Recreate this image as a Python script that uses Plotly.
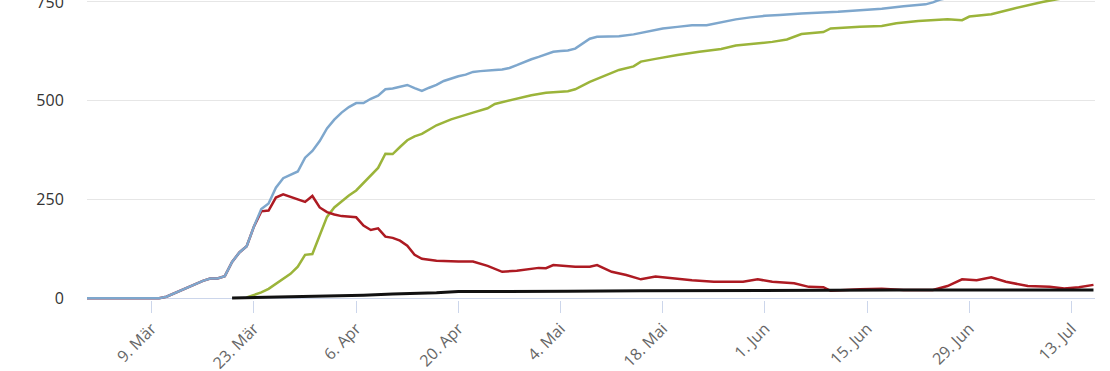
import plotly.graph_objects as go

# ---- data ----
blue_dates = ["02-29","03-10","03-11","03-12","03-13","03-14","03-15","03-16","03-17","03-18","03-19",
              "03-20","03-21","03-22","03-23","03-24","03-25","03-26","03-27","03-28","03-29","03-30",
              "03-31","04-01","04-02","04-03","04-04","04-05","04-06","04-07","04-08","04-09","04-10",
              "04-11","04-12","04-13","04-14","04-15","04-16","04-17","04-18","04-19","04-20","04-21",
              "04-22","04-23","04-24","04-25","04-26","04-27","04-28","04-29","04-30","05-01","05-02",
              "05-03","05-04","05-05","05-06","05-07","05-08","05-09","05-11","05-12","05-14","05-16",
              "05-18","05-20","05-22","05-24","05-26","05-28","05-30","06-01","06-03","06-06","06-11",
              "06-14","06-17","06-20","06-23","06-24","06-25","06-26","06-29","07-02","07-05","07-10",
              "07-14","07-16"]
blue_vals = [0,0,4,12,20,29,37,44,50,50,56,
             92,116,132,182,226,240,280,304,313,321,356,
             373,398,430,452,470,484,494,494,505,513,529,
             531,536,540,532,525,533,540,550,556,562,566,
             573,575,577,578,579,583,590,598,605,611,618,
             624,626,627,632,645,657,662,662,663,668,676,
             683,687,691,691,699,706,711,715,717,721,725,
             729,733,739,744,749,756,760,781,793,794,800,
             813,825]

red_dates = ["02-29","03-10","03-11","03-12","03-13","03-14","03-15","03-16","03-17","03-18","03-19",
             "03-20","03-21","03-22","03-23","03-24","03-25","03-26","03-27","03-28","03-29","03-30",
             "03-31","04-01","04-02","04-03","04-04","04-05","04-06","04-07","04-08","04-09","04-10",
             "04-11","04-12","04-13","04-14","04-15","04-17","04-20","04-22","04-24","04-26","04-28",
             "05-01","05-02","05-03","05-06","05-08","05-09","05-11","05-13","05-15","05-17","05-19",
             "05-22","05-25","05-29","05-31","06-02","06-05","06-07","06-09","06-10","06-14","06-17",
             "06-20","06-24","06-26","06-28","06-30","07-02","07-04","07-07","07-10","07-12","07-14",
             "07-16"]
red_vals = [0,0,4,12,20,29,37,44,50,50,56,
            92,116,132,182,220,222,255,263,257,250,244,
            259,230,218,212,208,206,205,184,173,177,156,
            153,146,133,110,100,95,93,93,82,67,70,
            77,76,84,80,80,84,67,59,48,55,51,
            46,42,42,48,42,38,29,28,19,23,24,
            21,21,31,48,46,53,42,31,29,25,28,
            34]

green_dates = ["03-22","03-23","03-24","03-25","03-26","03-27","03-28","03-29","03-30","03-31","04-01",
               "04-02","04-03","04-04","04-05","04-06","04-07","04-08","04-09","04-10","04-11","04-12",
               "04-13","04-14","04-15","04-17","04-19","04-22","04-24","04-25","04-27","04-30","05-02",
               "05-05","05-06","05-08","05-10","05-12","05-14","05-15","05-17","05-20","05-23","05-26",
               "05-28","05-31","06-02","06-04","06-06","06-09","06-10","06-14","06-17","06-19","06-22",
               "06-26","06-28","06-29","07-02","07-05","07-07","07-09","07-11","07-13","07-16"]
green_vals = [2,8,15,24,36,48,62,80,110,112,160,
              206,230,246,260,273,292,312,330,366,365,383,
              400,410,416,438,453,470,481,492,501,514,520,
              524,529,548,563,578,587,599,606,616,624,631,
              640,645,649,655,669,674,683,687,689,696,702,
              706,704,713,719,733,742,750,757,763,770]

black_dates = ["03-20","03-23","03-26","03-29","04-02","04-07","04-11","04-14","04-17","04-20",
               "04-27","05-05","05-15","05-30","06-19","07-16"]
black_vals = [1,2,3,5,6,8,11,12,14,17,17,18,19,20,21,21]

tick_dates = ["03-09","03-23","04-06","04-20","05-04","05-18","06-01","06-15","06-29","07-13"]
tick_labels = ["9. Mär","23. Mär","6. Apr","20. Apr","4. Mai","18. Mai","1. Jun","15. Jun","29. Jun","13. Jul"]
y_ticks = [0, 250, 500, 750]

def full(ds):
    return ["2020-" + d for d in ds]

fig = go.Figure()
fig.add_trace(go.Scatter(x=full(green_dates), y=green_vals, mode="lines",
                         line=dict(color="#9bb43a", width=2.5)))
fig.add_trace(go.Scatter(x=full(red_dates), y=red_vals, mode="lines",
                         line=dict(color="#ad1a22", width=2.5)))
fig.add_trace(go.Scatter(x=full(blue_dates), y=blue_vals, mode="lines",
                         line=dict(color="#7ea7cd", width=2.5)))
fig.add_trace(go.Scatter(x=full(black_dates), y=black_vals, mode="lines",
                         line=dict(color="#111111", width=3)))

fig.update_layout(
    width=1110, height=371,
    margin=dict(l=87, r=15, t=0, b=71, autoexpand=False),
    paper_bgcolor="white", plot_bgcolor="white",
    showlegend=False,
    font=dict(family="Open Sans, sans-serif"),
)
fig.update_xaxes(
    range=["2020-02-29 03:00", "2020-07-16 05:00"],
    tickvals=full(tick_dates), ticktext=tick_labels,
    tickangle=-45, ticks="outside", ticklen=12, tickcolor="#ccd6eb",
    showgrid=False, showline=False, zeroline=False, automargin=False,
    tickfont=dict(size=16, color="#666666"),
)
fig.update_yaxes(
    range=[-4.3, 755],
    tickvals=y_ticks, ticktext=[str(v) for v in y_ticks],
    showgrid=True, gridcolor="#e6e6e6", gridwidth=1,
    zeroline=True, zerolinecolor="#ccd6eb", zerolinewidth=1,
    showline=False, ticks="outside", ticklen=19, tickcolor="rgba(0,0,0,0)",
    automargin=False, ticklabeloverflow="allow",
    tickfont=dict(size=16, color="#333333"),
)

fig.write_html("out.html", config={"displayModeBar": False},
               post_script="document.body.style.margin='0';")
